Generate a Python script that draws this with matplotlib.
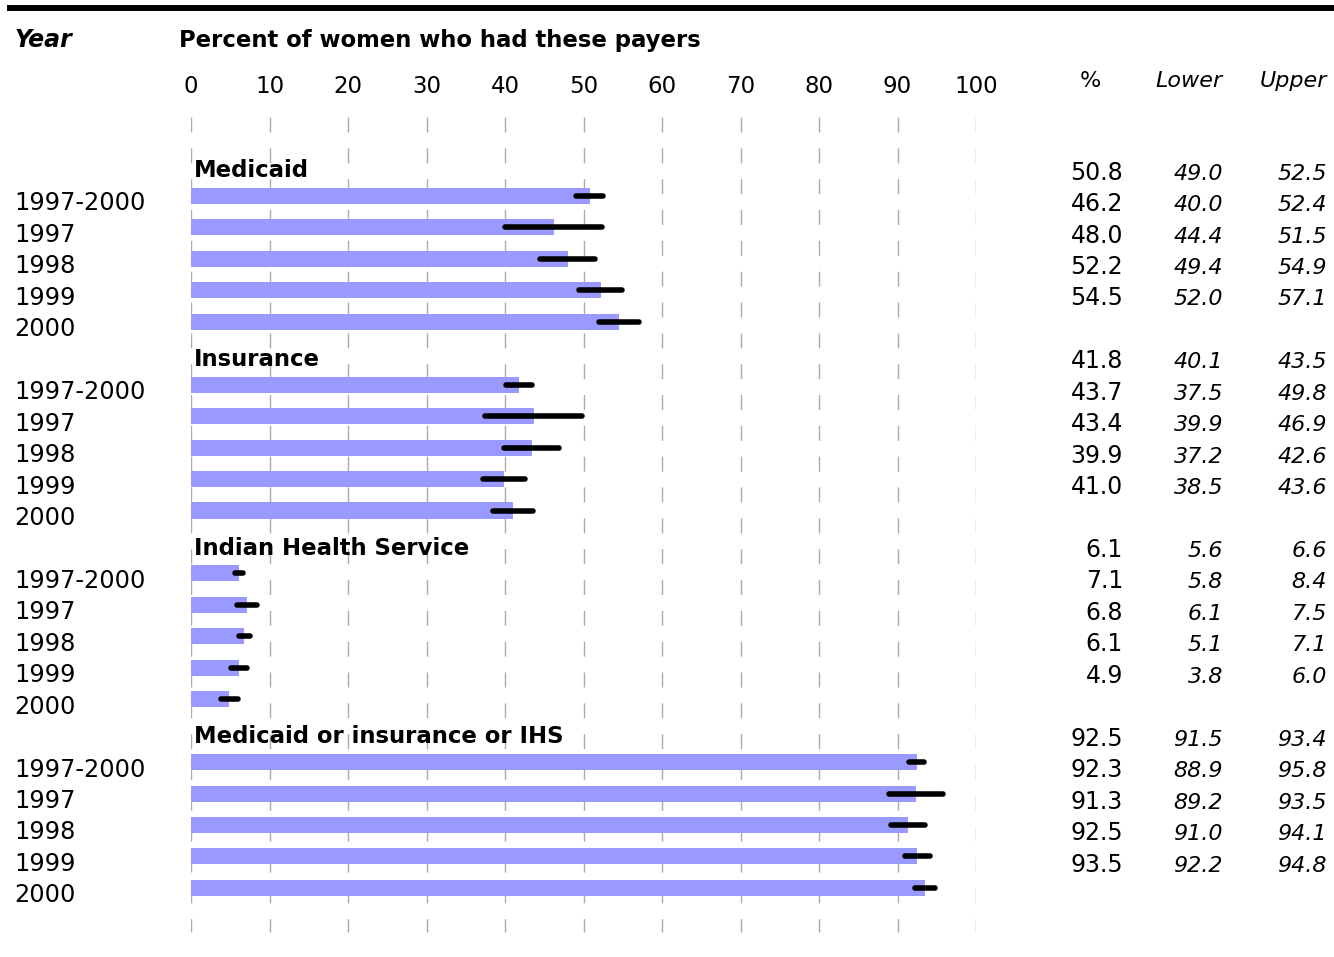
import matplotlib
matplotlib.use('Agg')
import matplotlib.pyplot as plt
from matplotlib.lines import Line2D
from matplotlib.transforms import blended_transform_factory

# Payer groups and the year rows under each one
groups = ['Medicaid', 'Insurance', 'Indian Health Service', 'Medicaid or insurance or IHS']
years = ['1997-2000', '1997', '1998', '1999', '2000']

# Percent of women with each payer, with lower / upper confidence limits
medicaid_pct = [50.8, 46.2, 48.0, 52.2, 54.5]
medicaid_lower = [49.0, 40.0, 44.4, 49.4, 52.0]
medicaid_upper = [52.5, 52.4, 51.5, 54.9, 57.1]

insurance_pct = [41.8, 43.7, 43.4, 39.9, 41.0]
insurance_lower = [40.1, 37.5, 39.9, 37.2, 38.5]
insurance_upper = [43.5, 49.8, 46.9, 42.6, 43.6]

ihs_pct = [6.1, 7.1, 6.8, 6.1, 4.9]
ihs_lower = [5.6, 5.8, 6.1, 5.1, 3.8]
ihs_upper = [6.6, 8.4, 7.5, 7.1, 6.0]

any_pct = [92.5, 92.3, 91.3, 92.5, 93.5]
any_lower = [91.5, 88.9, 89.2, 91.0, 92.2]
any_upper = [93.4, 95.8, 93.5, 94.1, 94.8]

pct = [medicaid_pct, insurance_pct, ihs_pct, any_pct]
lower = [medicaid_lower, insurance_lower, ihs_lower, any_lower]
upper = [medicaid_upper, insurance_upper, ihs_upper, any_upper]

xticks = list(range(0, 101, 10))

W, H = 1334, 957
plt.rcParams['font.family'] = 'DejaVu Sans'
fig = plt.figure(figsize=(W / 100, H / 100), dpi=100)

# row units: row 0 is the first bar, one row = 31.45 px
pitch = 31.45
row0 = 196
ax = fig.add_axes([191 / W, 0, 785 / W, 1])
ax.set_xlim(0, 100)
ax.set_ylim((H - row0) / pitch, -row0 / pitch)
ax.axis('off')

def px_to_row(y):
    return (y - row0) / pitch

# dashed vertical grid behind the bars
ax.vlines(xticks, px_to_row(117), px_to_row(932), colors='#acacac',
          linewidth=1.0, linestyles=(0, (10.8, 11.4)), zorder=0)

bar_rows, bar_vals, lo_vals, hi_vals = [], [], [], []
for g, name in enumerate(groups):
    head = 6 * g - 1
    ax.text(0.4, head + 0.40, name, fontsize=16.4, fontweight='bold',
            ha='left', va='baseline', zorder=3)
    for i in range(len(years)):
        bar_rows.append(6 * g + i)
        bar_vals.append(pct[g][i])
        lo_vals.append(lower[g][i])
        hi_vals.append(upper[g][i])

ax.barh(bar_rows, bar_vals, height=0.51, color='#9999ff', zorder=1)
ax.hlines(bar_rows, lo_vals, hi_vals, colors='black', linewidth=4.0,
          capstyle='round', zorder=2)

# year labels at the left
lab = blended_transform_factory(fig.transFigure, ax.transData)
for g in range(len(groups)):
    for i, yr in enumerate(years):
        ax.text(14 / W, 6 * g + i + 0.46, yr, fontsize=17.3, transform=lab,
                ha='left', va='baseline')

# table of values on the right, listed from the group header row down
for g in range(len(groups)):
    for i in range(len(years)):
        r = 6 * g + i - 1 + 0.48
        ax.text(1123 / W, r, f'{pct[g][i]:.1f}', fontsize=17, transform=lab,
                ha='right', va='baseline')
        ax.text(1223 / W, r, f'{lower[g][i]:.1f}', fontsize=16, style='italic',
                transform=lab, ha='right', va='baseline')
        ax.text(1327 / W, r, f'{upper[g][i]:.1f}', fontsize=16, style='italic',
                transform=lab, ha='right', va='baseline')

# x tick labels along the top
tick_tr = blended_transform_factory(ax.transData, fig.transFigure)
for t in xticks:
    ax.text(t, 1 - 93 / H, str(t), fontsize=16.5, transform=tick_tr,
            ha='center', va='baseline')

# heading texts
fig.text(15 / W, 1 - 47 / H, 'Year', fontsize=17, fontweight='bold',
         style='italic', ha='left', va='baseline')
fig.text(179 / W, 1 - 47 / H, 'Percent of women who had these payers',
         fontsize=16.4, fontweight='bold', ha='left', va='baseline')
fig.text(1090 / W, 1 - 87 / H, '%', fontsize=16, ha='center', va='baseline')
fig.text(1223 / W, 1 - 87 / H, 'Lower', fontsize=16, style='italic',
         ha='right', va='baseline')
fig.text(1327 / W, 1 - 87 / H, 'Upper', fontsize=16, style='italic',
         ha='right', va='baseline')

# thick rule across the top
fig.add_artist(Line2D([7 / W, 1], [1 - 8 / H, 1 - 8 / H], color='black',
                      linewidth=4.3, solid_capstyle='butt'))

fig.savefig('out.png', dpi=100)
